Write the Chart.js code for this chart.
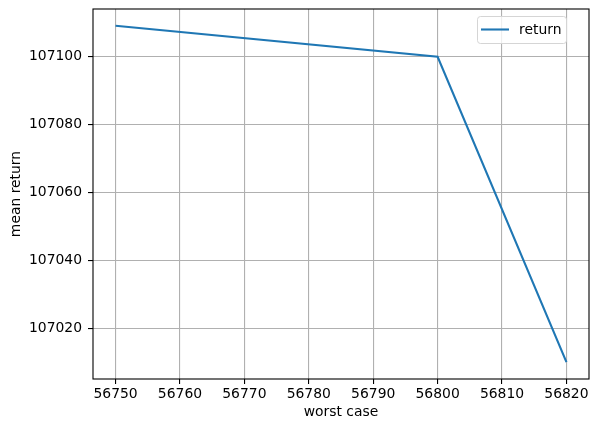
<!DOCTYPE html>
<html>
<head>
<meta charset="utf-8">
<script src="https://cdn.jsdelivr.net/npm/chart.js@4"></script>
<style>
  html, body { margin: 0; padding: 0; background: #fff; }
  canvas { display: block; }
</style>
</head>
<body>
<canvas id="grafico" width="599" height="432"></canvas>
<script>
const worstCase = [56750, 56800, 56820];
const meanReturn = [107109.1, 107100, 107010.2];
const xTicks = [56750, 56760, 56770, 56780, 56790, 56800, 56810, 56820];
const yTicks = [107020, 107040, 107060, 107080, 107100];
const serieLabel = 'return';

const fonte = { family: 'DejaVu Sans', size: 13.9 };

// limites com margem de 5% como no matplotlib
const xMin = Math.min(...worstCase), xMax = Math.max(...worstCase);
const yMin = Math.min(...meanReturn), yMax = Math.max(...meanReturn);
const xPad = (xMax - xMin) * 0.05, yPad = (yMax - yMin) * 0.05;

const molduraELegenda = {
    id: 'molduraELegenda',
    afterDraw(chart) {
        const { ctx, chartArea: a } = chart;
        ctx.save();
        ctx.strokeStyle = '#000';
        ctx.lineWidth = 1.1;
        ctx.strokeRect(a.left, a.top, a.right - a.left, a.bottom - a.top);

        // legenda no canto superior direito
        const ds = chart.data.datasets[0];
        const bx = 477, by = 16, bw = 89, bh = 27;
        ctx.fillStyle = 'rgba(255,255,255,0.8)';
        ctx.strokeStyle = '#d5d5d5';
        ctx.lineWidth = 1;
        ctx.beginPath();
        ctx.roundRect(bx + 0.5, by + 0.5, bw, bh, 3);
        ctx.fill();
        ctx.stroke();
        ctx.strokeStyle = ds.borderColor;
        ctx.lineWidth = 2.1;
        ctx.beginPath();
        ctx.moveTo(bx + 4, by + 13.5);
        ctx.lineTo(bx + 32, by + 13.5);
        ctx.stroke();
        ctx.fillStyle = '#000';
        ctx.font = fonte.size + 'px ' + fonte.family;
        ctx.textBaseline = 'middle';
        ctx.fillText(ds.label, bx + 42, by + 14);
        ctx.restore();
    }
};

new Chart(document.getElementById('grafico'), {
    type: 'line',
    data: {
        datasets: [{
            label: serieLabel,
            data: worstCase.map((x, i) => ({ x: x, y: meanReturn[i] })),
            borderColor: '#1f77b4',
            borderWidth: 2.1,
            pointRadius: 0,
            tension: 0,
            fill: false
        }]
    },
    options: {
        responsive: false,
        animation: false,
        devicePixelRatio: 1,
        layout: { padding: { top: 9, right: 10, left: 0, bottom: 0 } },
        plugins: { legend: { display: false }, tooltip: { enabled: false } },
        scales: {
            x: {
                type: 'linear',
                min: xMin - xPad,
                max: xMax + xPad,
                afterBuildTicks: s => { s.ticks = xTicks.map(v => ({ value: v })); },
                afterFit: s => { s.height = 53; s.paddingLeft = 0; s.paddingRight = 0; },
                grid: { color: '#b0b0b0', lineWidth: 1.1, tickColor: '#000', tickLength: 5, drawOnChartArea: true },
                border: { display: false },
                ticks: { color: '#000', font: fonte, padding: 2, maxRotation: 0, autoSkip: false, callback: v => String(v) },
                title: { display: true, text: 'worst case', color: '#000', font: fonte, padding: { top: 0, bottom: 11 } }
            },
            y: {
                type: 'linear',
                min: yMin - yPad,
                max: yMax + yPad,
                afterBuildTicks: s => { s.ticks = yTicks.map(v => ({ value: v })); },
                afterFit: s => { s.width = 93; s.paddingTop = 0; s.paddingBottom = 0; },
                grid: { color: '#b0b0b0', lineWidth: 1.1, tickColor: '#000', tickLength: 5 },
                border: { display: false },
                ticks: { color: '#000', font: fonte, padding: 6, autoSkip: false, callback: v => String(v) },
                title: { display: true, text: 'mean return', color: '#000', font: fonte, padding: { top: 8, bottom: 0 } }
            }
        }
    },
    plugins: [molduraELegenda]
});
</script>
</body>
</html>
